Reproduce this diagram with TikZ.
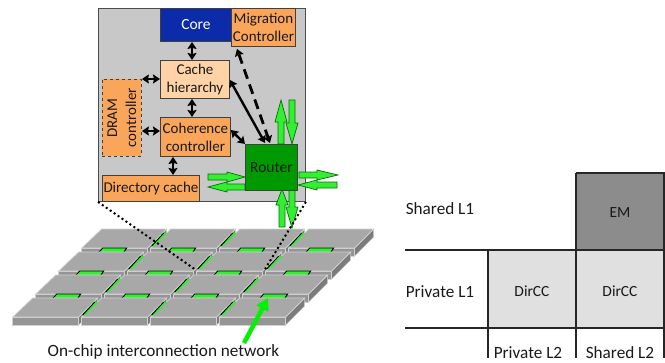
\documentclass[tikz,border=0pt]{standalone}
\usepackage{fontspec}
\setmainfont{Carlito}
\usetikzlibrary{arrows.meta,calc}
\definecolor{panel}{HTML}{C8C8C8}
\definecolor{orangeb}{HTML}{F9A65A}
\definecolor{peach}{HTML}{FFD3A6}
\definecolor{coreblue}{HTML}{0B2BA8}
\definecolor{routerg}{HTML}{009A00}
\definecolor{bright}{HTML}{33EE33}
\definecolor{tiletop}{HTML}{A8A8A8}
\definecolor{tilefront}{HTML}{959595}
\definecolor{tileside}{HTML}{7C7C7C}
\definecolor{tileedge}{HTML}{D2D2D2}
\tikzset{
  x=1pt,y=-1pt,
  block/.style={draw=black!75,line width=0.9pt,inner sep=0pt,anchor=north west,align=center,font=\fontsize{15}{17}\selectfont,text=black!90},
  orangebox/.style={block,fill=orangeb},
  link/.style={line width=2.4pt,black,{Stealth[length=7pt,width=9pt,inset=1pt]}-{Stealth[length=7pt,width=9pt,inset=1pt]}},
  dashlink/.style={link,line width=2.8pt,dash pattern=on 10pt off 6pt},
  greenarrow/.style={draw=green!45!black,fill=bright,line width=0.7pt,line join=miter},
  dots/.style={line width=2pt,dash pattern=on 2pt off 2.8pt,black},
  rule/.style={line width=2pt,black!85},
  label/.style={inner sep=0pt,font=\fontsize{17.2}{19}\selectfont,text=black!90},
  cell/.style={inner sep=0pt,font=\fontsize{15.5}{17}\selectfont,text=black!90},
}
\newcommand{\varrow}[5]{% xc, y1, ybase, y2 (tip), unused
  \draw[greenarrow] (#1-3,#2)--(#1-3,#3)--(#1-6,#3)--(#1,#4)--(#1+6,#3)--(#1+3,#3)--(#1+3,#2)--cycle;}
\newcommand{\harrow}[4]{% yc, x1, xbase, x2 (tip)
  \draw[greenarrow] (#2,#1-3)--(#3,#1-3)--(#3,#1-5)--(#4,#1)--(#3,#1+5)--(#3,#1+3)--(#2,#1+3)--cycle;}
\begin{document}
\begin{tikzpicture}
\useasboundingbox (0,0) rectangle (665,362);
% tiles
\foreach \r/\px/\py in {0/81.7/248,1/58.7/271,2/35.7/294,3/12.7/317}{
  \foreach \c in {0,1,2,3}{
    \pgfmathsetmacro{\tx}{\px+69*\c}
    \begin{scope}[shift={(\tx,\py)}]
      \fill[tileside,draw=tileedge,line width=0.5pt] (66,0)--(85,-19)--(85,-11)--(66,8)--cycle;
      \fill[tilefront,draw=tileedge,line width=0.7pt] (0,0) rectangle (66,8);
      \fill[tiletop,draw=tileedge,line width=0.7pt] (0,0)--(66,0)--(85,-19)--(20,-19)--cycle;
    \end{scope}
  }
  \foreach \c in {0,1,2}{
    \pgfmathsetmacro{\tx}{\px+69*\c}
    \begin{scope}[shift={(\tx,\py)}]
      \fill[bright] (70,-2)--(82,-15)--(86,-15)--(73,-2)--cycle;
      \draw[black,line width=0.9pt] (70,-2)--(82,-15);
    \end{scope}
  }
  \ifnum\r<3
  \foreach \c in {0,1,2,3}{
    \pgfmathsetmacro{\tx}{\px+69*\c}
    \begin{scope}[shift={(\tx,\py)}]
      \fill[bright] (17,4.5)--(21,0)--(45,0)--(42,4.5)--cycle;
      \draw[black,line width=0.9pt] (17,4.5)--(21,0)--(45,0)--(42,4.5);
    \end{scope}
  }
  \fi
}
% panel
\node[draw=black!70,fill=panel,line width=0.9pt,inner sep=0pt,minimum width=207pt,minimum height=193pt,anchor=north west] (panel) at (98,8) {};
\node[block,fill=coreblue,text=white,minimum width=71pt,minimum height=33pt,font=\fontsize{15.5}{17}\selectfont] (core) at (160,8) {Core};
\node[orangebox,minimum width=64pt,minimum height=38pt] (mig) at (231,8) {Migration\\[0.5pt]Controller};
\node[block,fill=peach,minimum width=69pt,minimum height=38pt] (cache) at (160,60) {Cache\\[0.5pt]hierarchy};
\node[orangebox,minimum width=70pt,minimum height=39pt] (coh) at (160,117) {Coherence\\[1pt]controller};
\node[orangebox,dashed,minimum width=39pt,minimum height=77pt] (dram) at (102,79) {};
\node[inner sep=0pt,align=center,rotate=90,font=\fontsize{15}{17}\selectfont,text=black!90] (dramt) at (dram.center) {DRAM\\[2pt]controller};
\node[orangebox,minimum width=97pt,minimum height=26pt] (dir) at (102,175) {Directory cache};
% green arrows behind router
\varrow{281}{144}{122}{100}{}
\varrow{292}{100}{123}{144}{}
\harrow{175}{299}{317}{338}
\harrow{185}{337}{317}{298}
\harrow{177}{208}{227}{245}
\harrow{187}{245}{227}{208}
\varrow{282}{227}{205}{189}{}
\varrow{292}{190}{207}{228}{}
\node[block,fill=routerg,minimum width=52pt,minimum height=46pt,font=\fontsize{15.5}{17}\selectfont] (router) at (245,144) {Router};
% links
\draw[link] (core.south -| 192,0) -- (cache.north -| 192,0);
\draw[link] (cache.south -| 192,0) -- (coh.north -| 192,0);
\draw[link] (coh.south -| 173,0) -- (dir.north -| 173,0);
\draw[link] (coh.west |- 0,131) -- (dram.east |- 0,131);
\draw[dashlink] (cache.west |- 0,79) -- (dram.north east);
\draw[link] (cache.east |- 0,80) -- (265,143);
\draw[link] (coh.east |- 0,130) -- (router.north west);
\draw[dashlink] (mig.south west) ++(6,2) -- (270,143);
% dots
\coordinate (t1) at (196,270);
\coordinate (t2) at (264,271);
\draw[dots] (panel.south west) -- (t1);
\draw[dots] (panel.south east) -- (t2);
% green pointer
\coordinate (ptrA) at (244,343);
\coordinate (ptrB) at (268,298);
\draw[-{Triangle[length=12pt,width=13pt]},line width=4.5pt,color=green!95!black] (ptrA) -- (ptrB);
\node[label] (cap) at (163.5,352) {On-chip interconnection network};
% table
\fill[black!45] (576,173) rectangle (665,250);
\fill[black!12] (488,250) rectangle (665,328);
\node[label] (s1) at (440,209) {Shared L1};
\node[label] (p1) at (440,292) {Private L1};
\node[cell] (em) at (620,213) {EM};
\node[cell] (d1) at (532,291) {DirCC};
\node[cell] (d2) at (620,291) {DirCC};
\node[label,anchor=base] (p2) at (528,358) {Private L2};
\node[label,anchor=base] (s2) at (620,358) {Shared L2};
\draw[rule] (405,250) -- (665,250);
\draw[rule] (405,328) -- (665,328);
\draw[rule] (488,250) -- (488,358);
\draw[rule] (576,173) -- (576,358);
\draw[rule] (576,173) -- (665,173);
\draw[rule] (664,173) -- (664,358);
\end{tikzpicture}
\end{document}
